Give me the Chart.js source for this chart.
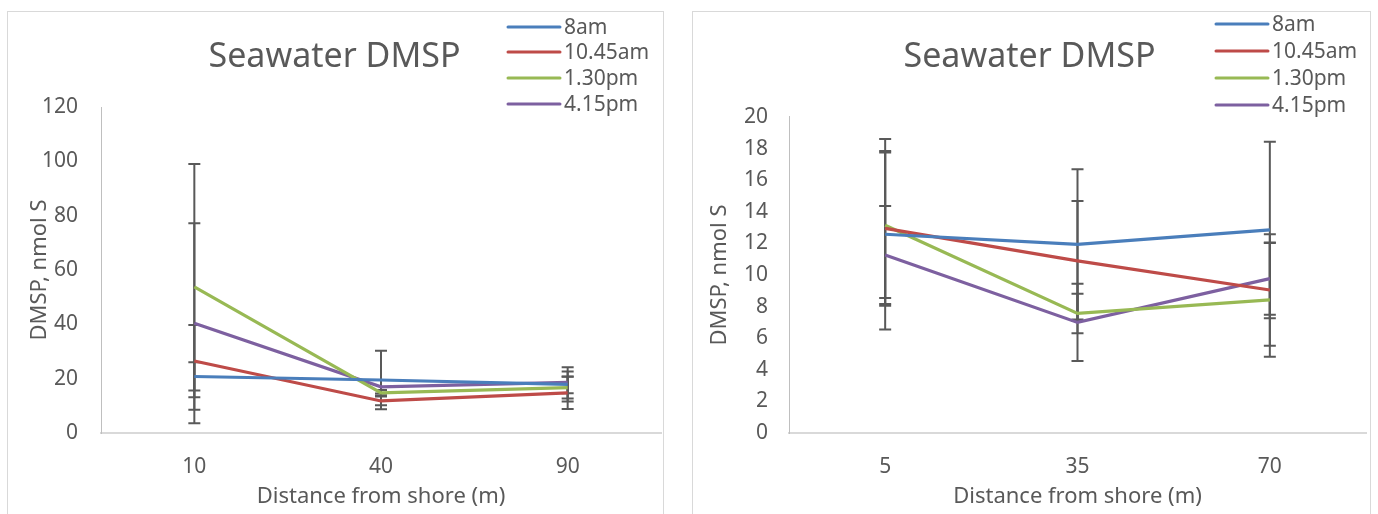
<!DOCTYPE html>
<html lang="en">
<head>
  <meta charset="UTF-8">
  <title>Seawater DMSP</title>
  <script src="https://cdn.jsdelivr.net/npm/chart.js"></script>
  <style>
    body { margin: 0; background: #fff; overflow: hidden; font-family: 'Noto Sans', sans-serif; }
    .box { position: absolute; top: 11px; height: 520px; border: 1px solid #d9d9d9; background: #fff; }
    #leftBox { left: 7px; width: 655px; }
    #rightBox { left: 692px; width: 677px; }
    canvas { display: block; }
  </style>
</head>
<body>
  <div class="box" id="leftBox"><canvas id="leftChart" width="655" height="502"></canvas></div>
  <div class="box" id="rightBox"><canvas id="rightChart" width="677" height="502"></canvas></div>

  <script>
    const seriesNames = ['8am', '10.45am', '1.30pm', '4.15pm'];
    const seriesColors = ['#4a7ebb', '#be4b48', '#98b954', '#7d60a0'];

    // first survey: distance 10 / 40 / 90 m
    const distancesA = ['10', '40', '90'];
    const dmspA_8am = [20.8, 19.5, 17.9];
    const dmspA_1045 = [26.5, 11.8, 14.8];
    const dmspA_130 = [53.8, 14.8, 16.7];
    const dmspA_415 = [40.4, 17.0, 18.6];
    const errA_8am = [5.2, 10.8, 6.3];
    const errA_1045 = [13.3, 1.6, 6.0];
    const errA_130 = [45.2, 1.0, 4.0];
    const errA_415 = [36.8, 2.5, 4.0];

    // second survey: distance 5 / 35 / 70 m
    const distancesB = ['5', '35', '70'];
    const dmspB_8am = [12.58, 11.94, 12.85];
    const dmspB_1045 = [12.95, 10.89, 9.05];
    const dmspB_130 = [13.15, 7.57, 8.42];
    const dmspB_415 = [11.27, 7.0, 9.77];
    const errB_8am = [6.03, 4.75, 5.59];
    const errB_1045 = [4.9, 3.8, 3.53];
    const errB_130 = [4.6, 1.25, 3.6];
    const errB_415 = [3.1, 2.45, 2.28];

    const textColor = '#595959';
    const fontFamily = "'Noto Sans', sans-serif";

    // vertical error bars with caps, drawn from each dataset's errors array
    const errorBars = {
      id: 'errorBars',
      beforeDatasetsDraw(chart) {
        const ctx = chart.ctx;
        const yScale = chart.scales.y;
        ctx.save();
        ctx.strokeStyle = '#595959';
        ctx.lineWidth = 2;
        chart.data.datasets.forEach((ds, i) => {
          const meta = chart.getDatasetMeta(i);
          meta.data.forEach((pt, j) => {
            const v = ds.data[j], e = ds.errors[j];
            const top = yScale.getPixelForValue(v + e);
            const bot = yScale.getPixelForValue(Math.max(0, v - e));
            ctx.beginPath();
            ctx.moveTo(pt.x, top); ctx.lineTo(pt.x, bot);
            ctx.moveTo(pt.x - 6, top); ctx.lineTo(pt.x + 6, top);
            ctx.moveTo(pt.x - 6, bot); ctx.lineTo(pt.x + 6, bot);
            ctx.stroke();
          });
        });
        ctx.restore();
      }
    };

    // legend box in the upper right corner
    const cornerLegend = {
      id: 'cornerLegend',
      afterDraw(chart, args, opts) {
        const ctx = chart.ctx;
        ctx.save();
        ctx.font = `21px ${fontFamily}`;
        ctx.textBaseline = 'middle';
        chart.data.datasets.forEach((ds, i) => {
          const y = opts.rows[i];
          ctx.strokeStyle = ds.borderColor;
          ctx.lineWidth = 3;
          ctx.lineCap = 'round';
          ctx.beginPath();
          ctx.moveTo(opts.x, y);
          ctx.lineTo(opts.x + 52, y);
          ctx.stroke();
          ctx.fillStyle = textColor;
          ctx.fillText(ds.label, opts.x + 56, y + 1);
        });
        ctx.restore();
      }
    };

    function makeDatasets(values, errors) {
      return values.map((v, i) => ({
        label: seriesNames[i],
        data: v,
        errors: errors[i],
        borderColor: seriesColors[i],
        backgroundColor: seriesColors[i],
        borderWidth: 3.2,
        pointRadius: 0,
        tension: 0
      }));
    }

    function makeChart(id, labels, values, errors, cfg) {
      return new Chart(document.getElementById(id), {
        type: 'line',
        data: { labels: labels, datasets: makeDatasets(values, errors) },
        plugins: [errorBars, cornerLegend],
        options: {
          responsive: false,
          animation: false,
          layout: { padding: { left: 0, right: cfg.padRight, top: 0, bottom: 0 } },
          plugins: {
            legend: { display: false },
            tooltip: { enabled: false },
            title: {
              display: true,
              text: 'Seawater DMSP',
              color: textColor,
              font: { family: fontFamily, size: 34, weight: 'normal' },
              padding: { top: 24.6, bottom: cfg.top - 65.4 }
            },
            cornerLegend: cfg.legend
          },
          scales: {
            x: {
              offset: true,
              grid: { display: false, drawTicks: false },
              border: { display: true, color: '#d9d9d9', width: 2 },
              ticks: { color: textColor, padding: 21, font: { family: fontFamily, size: 21 } },
              title: {
                display: true, text: 'Distance from shore (m)', color: textColor,
                font: { family: fontFamily, size: 22 }, padding: { top: 0, bottom: 4 }
              },
              afterFit: s => { s.height = 81; }
            },
            y: {
              min: 0, max: cfg.max,
              grid: { display: false, drawTicks: false },
              border: { display: true, color: '#bfbfbf', width: 1 },
              ticks: { stepSize: cfg.step, color: textColor, padding: cfg.tickPad, font: { family: fontFamily, size: 21 } },
              title: {
                display: true, text: 'DMSP, nmol S', color: textColor,
                font: { family: fontFamily, size: 22 }, padding: { top: cfg.titlePad, bottom: 0 }
              },
              afterFit: s => { s.width = cfg.left; }
            }
          }
        }
      });
    }

    makeChart('leftChart', distancesA,
      [dmspA_8am, dmspA_1045, dmspA_130, dmspA_415],
      [errA_8am, errA_1045, errA_130, errA_415],
      { max: 120, step: 20, left: 93, top: 95, padRight: 2, tickPad: 23, titlePad: 19,
        legend: { x: 500, rows: [15, 40, 66, 92] } });

    makeChart('rightChart', distancesB,
      [dmspB_8am, dmspB_1045, dmspB_130, dmspB_415],
      [errB_8am, errB_1045, errB_130, errB_415],
      { max: 20, step: 2, left: 96, top: 105, padRight: 4, tickPad: 21, titlePad: 14,
        legend: { x: 523, rows: [12, 39, 66, 93] } });
  </script>
</body>
</html>
